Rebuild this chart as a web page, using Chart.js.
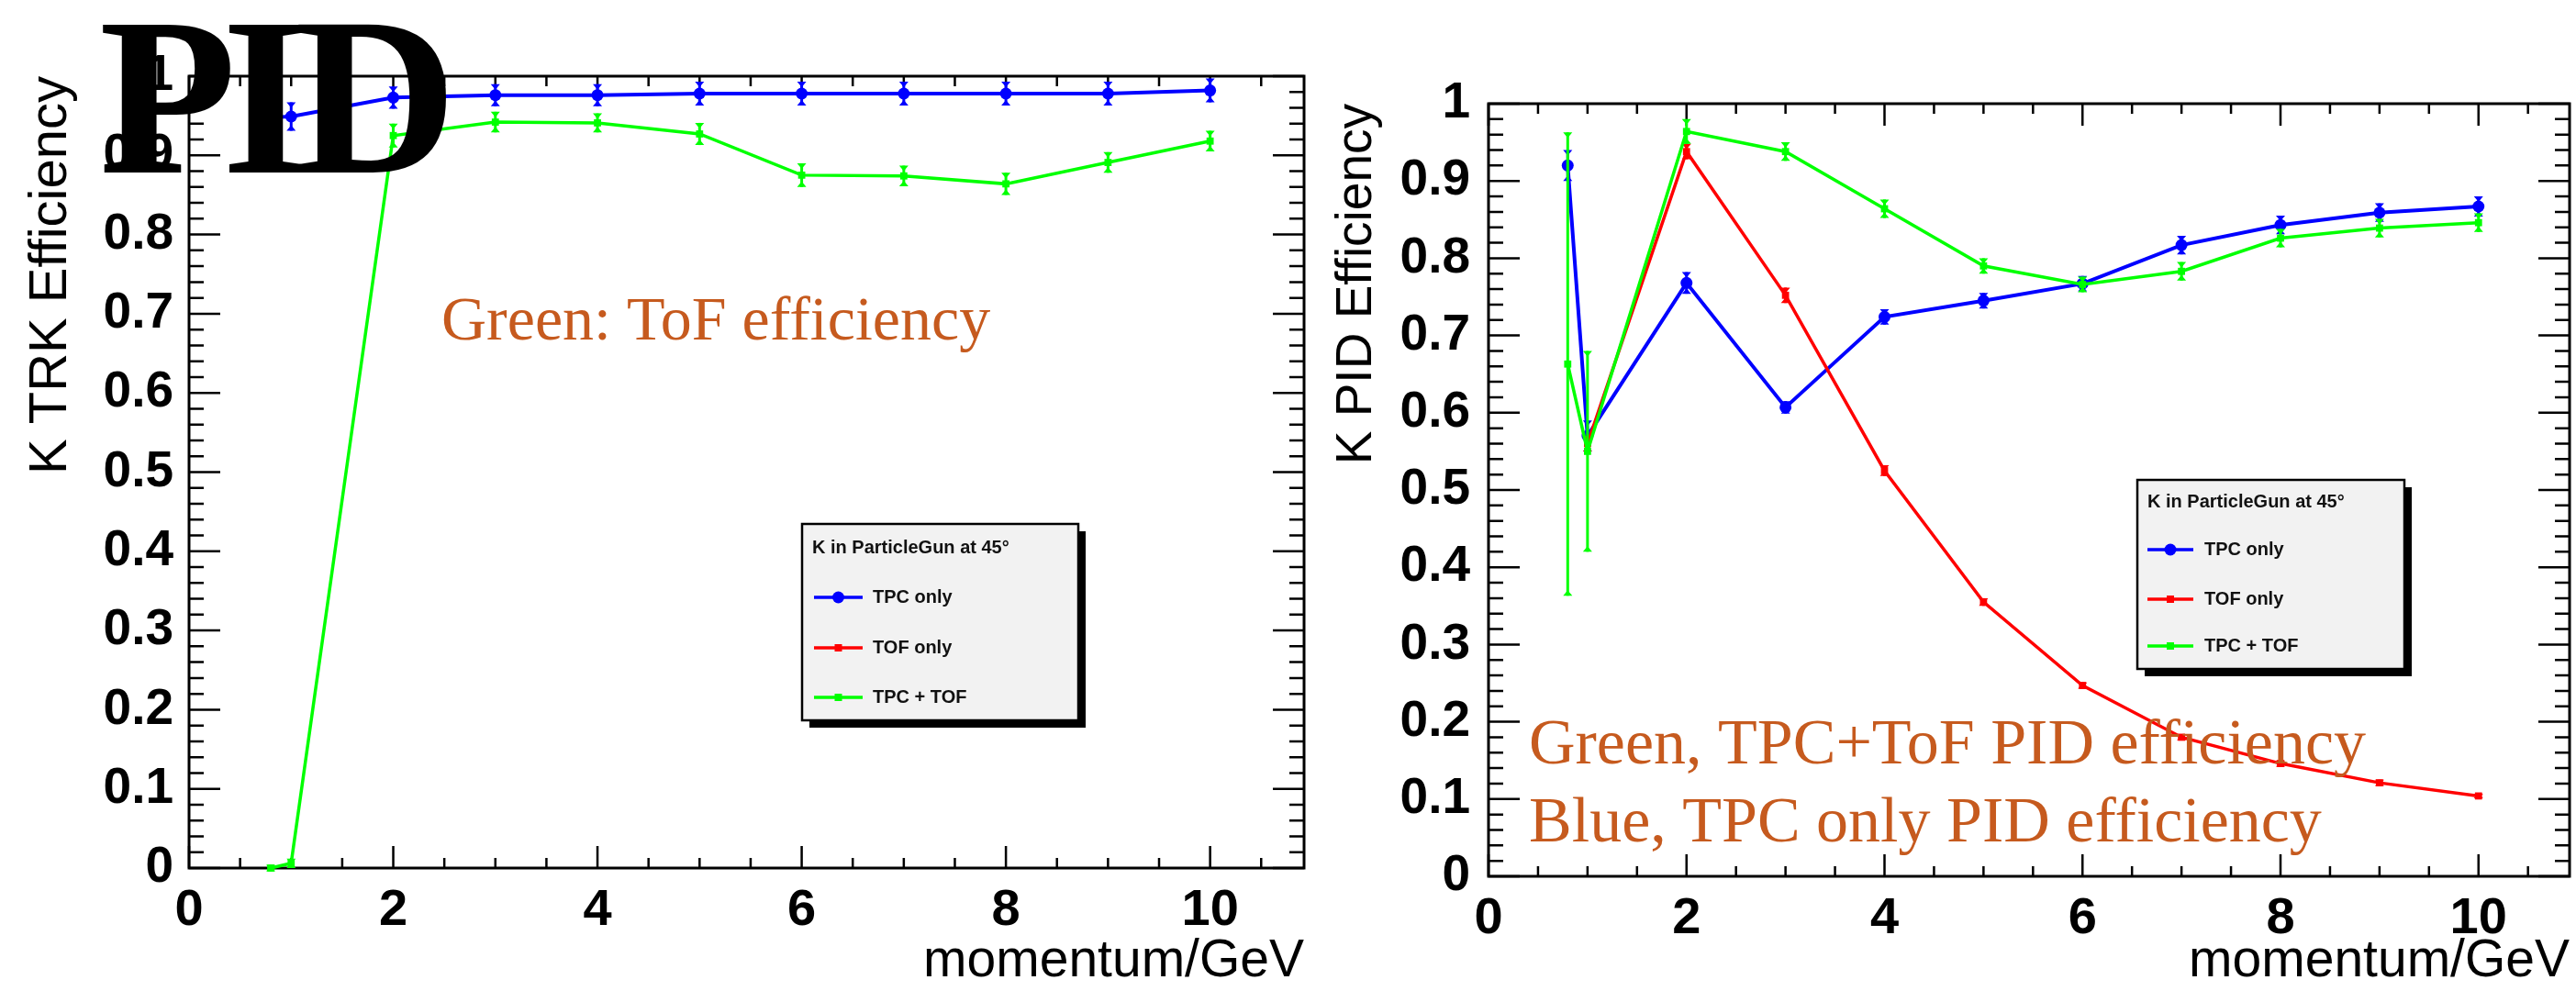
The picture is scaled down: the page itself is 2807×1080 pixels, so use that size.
<!DOCTYPE html>
<html>
<head>
<meta charset="utf-8">
<title>K efficiency vs momentum</title>
<script src="https://cdn.jsdelivr.net/npm/chart.js@4.4.1/dist/chart.umd.min.js"></script>
<style>
  html, body { margin: 0; padding: 0; background: #fff; }
  body { width: 2807px; height: 1080px; position: relative; overflow: hidden; }
  canvas { position: absolute; top: 0; }
  #trkChart { left: 0; }
  #pidChart { left: 1440px; }
</style>
</head>
<body>
<canvas id="trkChart" width="1440" height="1080"></canvas>
<canvas id="pidChart" width="1367" height="1080"></canvas>
<script>
// momentum points (GeV)
const momentum = [0.8, 1, 2, 3, 4, 5, 6, 7, 8, 9, 10];

const seriesNames = ['TPC only', 'TOF only', 'TPC + TOF'];
const seriesColors = ['#0000ff', '#ff0000', '#00ff00'];
const legendTitle = 'K in ParticleGun at 45\u00b0';

// tracking efficiency
const trkTpcOnly    = [0.948, 0.949, 0.973, 0.976, 0.976, 0.978, 0.978, 0.978, 0.978, 0.978, 0.982];
const trkTpcOnlyErr = [0.015, 0.018, 0.014, 0.014, 0.014, 0.015, 0.015, 0.015, 0.015, 0.015, 0.015];
const trkTpcTof     = [0.0, 0.006, 0.925, 0.942, 0.941, 0.927, 0.875, 0.874, 0.864, 0.891, 0.918];
const trkTpcTofErr  = [0.004, 0.006, 0.015, 0.013, 0.012, 0.014, 0.015, 0.013, 0.014, 0.013, 0.013];

// PID efficiency
const pidTpcOnly    = [0.920, 0.570, 0.768, 0.607, 0.724, 0.745, 0.767, 0.817, 0.843, 0.859, 0.867];
const pidTpcOnlyErr = [0.020, 0.020, 0.014, 0.008, 0.010, 0.010, 0.010, 0.012, 0.012, 0.012, 0.013];
const pidTofOnly    = [null, 0.560, 0.938, 0.752, 0.525, 0.355, 0.247, 0.180, 0.146, 0.121, 0.104];
const pidTofOnlyErr = [null, 0.010, 0.010, 0.010, 0.007, 0.005, 0.004, 0.004, 0.004, 0.004, 0.003];
const pidTpcTof     = [0.663, 0.550, 0.964, 0.938, 0.864, 0.790, 0.766, 0.783, 0.826, 0.839, 0.846];
const pidTpcTofErr  = [0.300, 0.130, 0.016, 0.012, 0.012, 0.010, 0.010, 0.012, 0.012, 0.012, 0.012];

const SANS = '"Liberation Sans", Arial, Helvetica, sans-serif';
const SERIF = '"Liberation Serif", "Times New Roman", serif';
const ORANGE = '#c65a1e';

function series(idx, vals, errs) {
  const circle = idx === 0;
  return {
    label: seriesNames[idx],
    data: momentum.map((x, i) => ({ x, y: vals[i], err: errs[i] })).filter(p => p.y !== null),
    borderColor: seriesColors[idx],
    backgroundColor: seriesColors[idx],
    borderWidth: circle ? 4 : 3.5,
    pointStyle: circle ? 'circle' : 'rect',
    pointRadius: circle ? 6.5 : 5.5,
    pointBorderWidth: 0,
    tension: 0,
    clip: false
  };
}

// frame with ticks pointing inwards on all four sides
const frameTicks = {
  id: 'frameTicks',
  beforeDatasetsDraw(chart, args, o) {
    const { ctx, chartArea: a, scales: { x, y } } = chart;
    const steps = (scale, step, fn) => {
      const majors = scale.ticks.map(t => t.value);
      const n = Math.floor((scale.max - scale.min) / step + 1e-6);
      for (let i = 0; i <= n; i++) {
        const v = scale.min + i * step;
        fn(scale.getPixelForValue(v), majors.some(m => Math.abs(m - v) < 1e-6));
      }
    };
    ctx.save();
    ctx.strokeStyle = '#000';
    ctx.lineWidth = 2.5;
    ctx.beginPath();
    steps(x, o.xMinor, (px, major) => {
      const len = major ? o.xMajorLen : o.xMinorLen;
      ctx.moveTo(px, a.bottom); ctx.lineTo(px, a.bottom - len);
      ctx.moveTo(px, a.top); ctx.lineTo(px, a.top + len);
    });
    steps(y, o.yMinor, (py, major) => {
      const len = major ? o.yMajorLen : o.yMinorLen;
      ctx.moveTo(a.left, py); ctx.lineTo(a.left + len, py);
      ctx.moveTo(a.right, py); ctx.lineTo(a.right - len, py);
    });
    ctx.stroke();
    ctx.lineWidth = 3;
    ctx.strokeRect(a.left, a.top, a.right - a.left, a.bottom - a.top);
    ctx.restore();
  }
};

// vertical error bars with small triangular ends, drawn with each graph
const errorBars = {
  id: 'errorBars',
  afterDatasetDraw(chart, args) {
    const ds = chart.data.datasets[args.index];
    const { ctx, scales: { x, y } } = chart;
    ctx.save();
    ctx.strokeStyle = ds.borderColor;
    ctx.fillStyle = ds.borderColor;
    ctx.lineWidth = 3;
    ds.data.forEach(p => {
      if (!p.err) return;
      const px = x.getPixelForValue(p.x);
      const top = y.getPixelForValue(p.y + p.err);
      const bot = y.getPixelForValue(p.y - p.err);
      ctx.beginPath();
      ctx.moveTo(px, top); ctx.lineTo(px, bot);
      ctx.stroke();
      ctx.beginPath();
      ctx.moveTo(px - 5, top); ctx.lineTo(px + 5, top); ctx.lineTo(px, top + 6); ctx.closePath();
      ctx.moveTo(px - 5, bot); ctx.lineTo(px + 5, bot); ctx.lineTo(px, bot - 6); ctx.closePath();
      ctx.fill();
    });
    ctx.restore();
  }
};

// boxed legend with drop shadow and a header line
const boxLegend = {
  id: 'boxLegend',
  afterDraw(chart, args, o) {
    const { ctx } = chart;
    const b = o.box;
    ctx.save();
    ctx.fillStyle = '#000';
    ctx.fillRect(b.x + 8, b.y + 8, b.w, b.h);
    ctx.fillStyle = '#f2f2f2';
    ctx.fillRect(b.x, b.y, b.w, b.h);
    ctx.strokeStyle = '#000';
    ctx.lineWidth = 2.5;
    ctx.strokeRect(b.x, b.y, b.w, b.h);
    ctx.fillStyle = '#111';
    ctx.font = 'bold 20px ' + SANS;
    ctx.textBaseline = 'middle';
    ctx.fillText(legendTitle, b.x + 11, b.y + o.headerY);
    seriesNames.forEach((name, i) => {
      const ly = b.y + o.rowY[i];
      const x0 = b.x + o.lineX[0], x1 = b.x + o.lineX[1];
      const mx = (x0 + x1) / 2;
      ctx.strokeStyle = seriesColors[i];
      ctx.fillStyle = seriesColors[i];
      ctx.lineWidth = 3.5;
      ctx.beginPath(); ctx.moveTo(x0, ly); ctx.lineTo(x1, ly); ctx.stroke();
      ctx.beginPath();
      if (i === 0) ctx.arc(mx, ly, 6.5, 0, Math.PI * 2);
      else ctx.rect(mx - 4, ly - 4, 8, 8);
      ctx.fill();
      ctx.fillStyle = '#111';
      ctx.fillText(name, b.x + o.textX, ly);
    });
    ctx.restore();
  }
};

// free text drawn over the plot
const captions = {
  id: 'captions',
  afterDraw(chart, args, o) {
    const { ctx } = chart;
    ctx.save();
    ctx.textBaseline = 'alphabetic';
    o.items.forEach(t => {
      ctx.font = t.font;
      ctx.fillStyle = t.color;
      ctx.letterSpacing = (t.spacing || 0) + 'px';
      ctx.fillText(t.text, t.x, t.y);
    });
    ctx.restore();
  }
};

// ROOT-style labels: 0, 0.1, ..., 0.9, 1
const shortLabel = v => String(Math.round(v * 10) / 10);

function effOptions(c) {
  return {
    responsive: false,
    animation: false,
    layout: { padding: { top: c.top, right: c.right, bottom: 0, left: 0 } },
    plugins: {
      legend: { display: false },
      tooltip: { enabled: false },
      frameTicks: { xMinor: 0.5, xMajorLen: 24, xMinorLen: 11, yMinor: 0.02, yMajorLen: 34, yMinorLen: 16 },
      boxLegend: c.legend,
      captions: { items: c.captions }
    },
    scales: {
      x: {
        type: 'linear', min: 0, max: 10.92,
        grid: { display: false }, border: { display: false },
        ticks: {
          stepSize: 2, includeBounds: false, autoSkip: false, maxRotation: 0,
          padding: 5, color: '#000', font: { family: SANS, weight: 'bold', size: 56 },
          callback: shortLabel
        },
        title: {
          display: true, text: 'momentum/GeV', align: 'end', color: '#000',
          font: { family: SANS, size: 57, lineHeight: 1.1 }, padding: { top: 0, bottom: 0 }
        },
        afterFit: s => { s.height = c.xHeight; }
      },
      y: {
        type: 'linear', min: 0, max: 1,
        grid: { display: false }, border: { display: false },
        ticks: {
          stepSize: 0.1, padding: c.yTickPad, color: '#000',
          font: { family: SANS, weight: 'bold', size: 55 },
          callback: shortLabel
        },
        title: {
          display: true, text: c.yTitle, align: 'end', color: '#000',
          font: { family: SANS, size: c.yTitleSize, lineHeight: 1.1 }, padding: { top: c.yTitlePad, bottom: 0 }
        },
        afterFit: s => { s.width = c.yWidth; }
      }
    }
  };
}

const plugins = [frameTicks, errorBars, boxLegend, captions];

// TRK efficiency; green drawn on top, so it goes first
new Chart(document.getElementById('trkChart'), {
  type: 'line',
  data: {
    datasets: [
      series(2, trkTpcTof, trkTpcTofErr),
      series(0, trkTpcOnly, trkTpcOnlyErr)
    ]
  },
  options: effOptions({
    top: 83, right: 19, xHeight: 134, yWidth: 206, yTickPad: 9,
    yTitle: 'K TRK Efficiency', yTitleSize: 58, yTitlePad: 24,
    legend: { box: { x: 874, y: 571, w: 301, h: 214 }, headerY: 26, rowY: [80, 135, 189], lineX: [13, 66], textX: 77 },
    captions: [
      { text: 'Green: ToF efficiency', font: '68px ' + SERIF, color: ORANGE, x: 481, y: 370 },
      { text: 'PID', font: 'bold 245px ' + SERIF, color: '#000', x: 108, y: 188, spacing: -16 }
    ]
  }),
  plugins
});

// PID efficiency
new Chart(document.getElementById('pidChart'), {
  type: 'line',
  data: {
    datasets: [
      series(2, pidTpcTof, pidTpcTofErr),
      series(1, pidTofOnly, pidTofOnlyErr),
      series(0, pidTpcOnly, pidTpcOnlyErr)
    ]
  },
  options: effOptions({
    top: 113, right: 7, xHeight: 125, yWidth: 182, yTickPad: 12,
    yTitle: 'K PID Efficiency', yTitleSize: 55, yTitlePad: 9,
    legend: { box: { x: 889, y: 523, w: 291, h: 206 }, headerY: 24, rowY: [76, 130, 181], lineX: [11, 61], textX: 73 },
    captions: [
      { text: 'Green, TPC+ToF PID efficiency', font: '70px ' + SERIF, color: ORANGE, x: 226, y: 832 },
      { text: 'Blue, TPC only PID efficiency', font: '70px ' + SERIF, color: ORANGE, x: 226, y: 917 }
    ]
  }),
  plugins
});
</script>
</body>
</html>
